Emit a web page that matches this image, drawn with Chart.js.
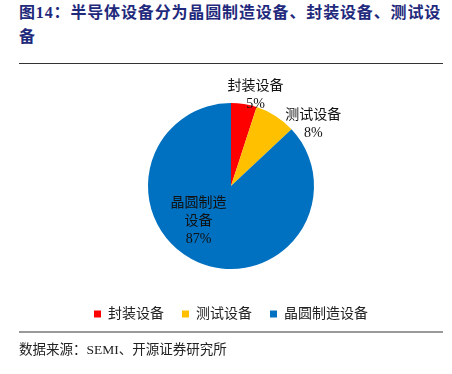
<!DOCTYPE html>
<html>
<head>
<meta charset="utf-8">
<script src="https://cdn.jsdelivr.net/npm/chart.js@4.4.1/dist/chart.umd.min.js"></script>
<style>
  html, body { margin: 0; padding: 0; background: #fff; }
  body { width: 452px; height: 374px; position: relative; overflow: hidden; }
  .title {
    position: absolute; left: 19px; top: 1px;
    font: bold 16px/24px "Liberation Serif", "Noto Sans CJK SC", serif;
    letter-spacing: 0.85px; color: #1f2a7c; white-space: nowrap;
  }
  .rule-top { position: absolute; left: 19px; top: 63px; width: 424px; height: 1px; background: #333; }
  .rule-bottom { position: absolute; left: 19px; top: 331px; width: 424px; height: 2px; background: #9a9a9a; }
  .source {
    position: absolute; left: 19px; top: 341px;
    font: 13.5px/18px "Liberation Serif", "Noto Sans CJK SC", serif; color: #222;
  }
  .chart-box { position: absolute; left: 5px; top: 59px; width: 452px; height: 274px; }
</style>
</head>
<body>
<div class="title">图14：半导体设备分为晶圆制造设备、封装设备、测试设<br>备</div>
<div class="rule-top"></div>
<div class="chart-box"><canvas id="pie"></canvas></div>
<div class="rule-bottom"></div>
<div class="source">数据来源：SEMI、开源证券研究所</div>

<script>
// ── Data ──────────────────────────────────────────────────────────
const categories = ['封装设备', '测试设备', '晶圆制造设备'];
const shares = [5, 8, 87];
const sliceColors = ['#FF0000', '#FFC000', '#0070C0'];
// how each data label breaks into lines
const labelLines = [['封装设备'], ['测试设备'], ['晶圆制造', '设备']];

const labelFont = '14px "Liberation Serif", "Noto Sans CJK SC", serif';

// ── Data label plugin ─────────────────────────────────────────────
const sliceLabels = {
    id: 'sliceLabels',
    afterDatasetsDraw(chart, args, opts) {
        const { ctx } = chart;
        const meta = chart.getDatasetMeta(0);
        ctx.save();
        ctx.font = labelFont;
        ctx.fillStyle = '#111';
        ctx.textAlign = 'center';
        ctx.textBaseline = 'middle';
        meta.data.forEach((arc, i) => {
            const c = arc.getCenterPoint();
            const shift = opts.shifts[i];
            const lines = labelLines[i].concat([shares[i] + '%']);
            const lh = opts.lineHeight;
            const y0 = c.y + shift[1] - (lines.length - 1) * lh / 2;
            lines.forEach((t, k) => ctx.fillText(t, c.x + shift[0], y0 + k * lh));
        });
        ctx.restore();
    }
};

new Chart(document.getElementById('pie'), {
    type: 'pie',
    data: {
        labels: categories,
        datasets: [{
            data: shares,
            backgroundColor: sliceColors,
            borderWidth: 0,
            radius: 83,
        }]
    },
    options: {
        responsive: true,
        maintainAspectRatio: false,
        animation: false,
        layout: { padding: { top: 24, bottom: 2 } },
        plugins: {
            tooltip: { enabled: false },
            legend: {
                position: 'bottom',
                labels: {
                    boxWidth: 7,
                    boxHeight: 7,
                    padding: 18,
                    color: '#222',
                    font: { family: '"Liberation Serif", "Noto Sans CJK SC", serif', size: 14 },
                }
            },
            sliceLabels: {
                lineHeight: 18,
                shifts: [[18, -50], [60, -27], [-16, -3]],
            }
        }
    },
    plugins: [sliceLabels]
});
</script>
</body>
</html>
